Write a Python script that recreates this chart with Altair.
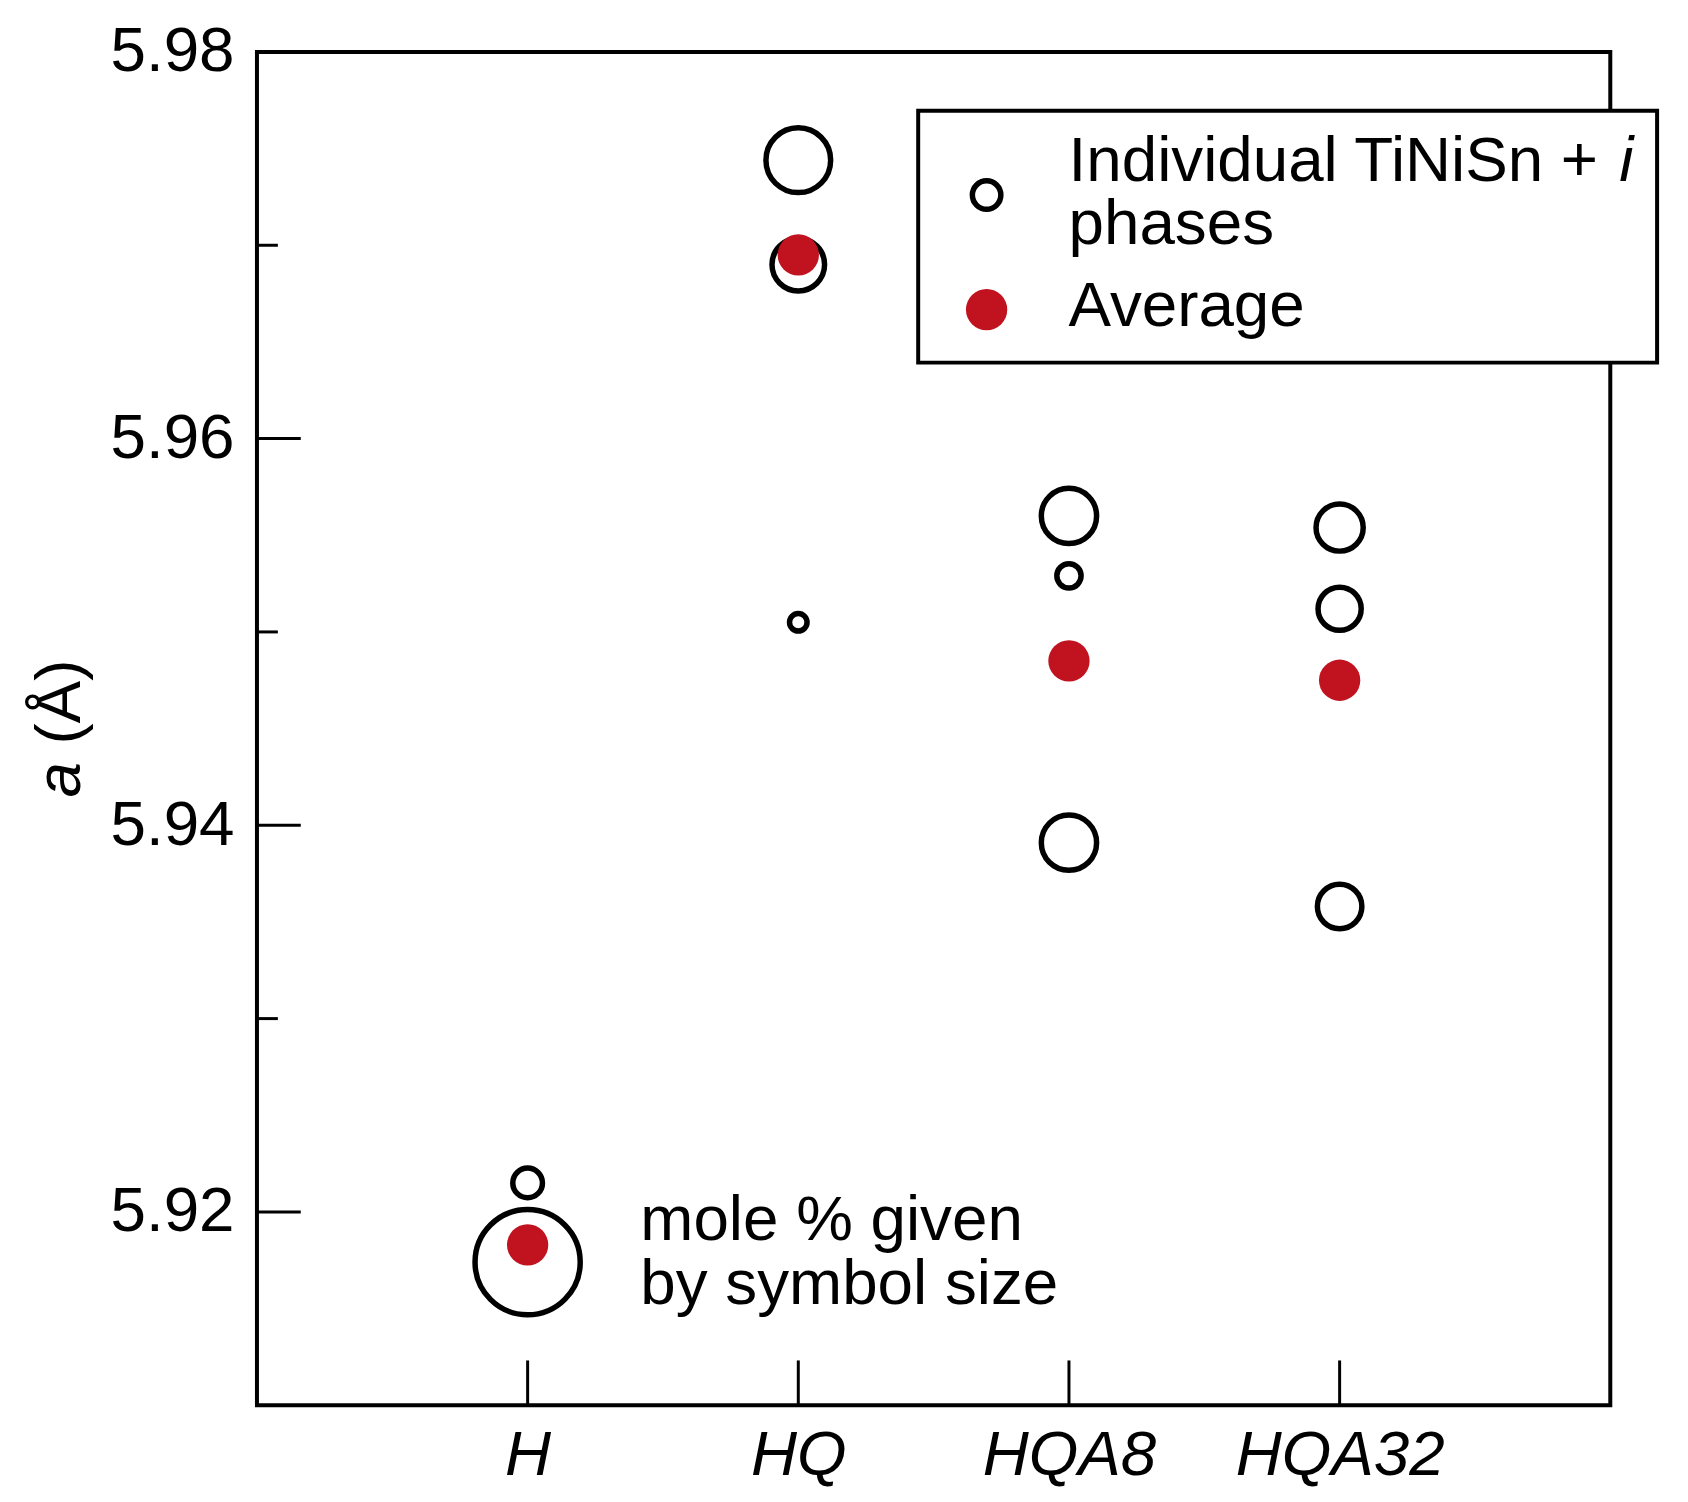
import altair as alt
import pandas as pd

# ---------------- data ----------------
categories = ["H", "HQ", "HQA8", "HQA32"]

phase_sample = ["H", "H", "HQ", "HQ", "HQ", "HQA8", "HQA8", "HQA8", "HQA32", "HQA32", "HQA32"]
phase_a = [5.9215, 5.9174, 5.9744, 5.9690, 5.9505, 5.9560, 5.9529, 5.9391, 5.9554, 5.9512, 5.9358]
phase_mole = [22, 78, 48, 39, 13, 41, 18, 41, 35, 32, 33]

avg_sample = ["H", "HQ", "HQA8", "HQA32"]
avg_a = [5.9183, 5.9695, 5.9485, 5.9475]

y_label_values = [5.92, 5.94, 5.96, 5.98]
y_major_ticks = [5.92, 5.94, 5.96]
y_minor_ticks = [5.93, 5.95, 5.97]

RED = "#c1121f"
FONT = "Liberation Sans"
W = 1359
H = 1359

phases = pd.DataFrame({"sample": phase_sample, "a": phase_a, "mole": phase_mole})
avgs = pd.DataFrame({"sample": avg_sample, "a": avg_a})
major = pd.DataFrame({"a": y_major_ticks})
minor = pd.DataFrame({"a": y_minor_ticks})
cats = pd.DataFrame({"sample": categories})
one = pd.DataFrame({"k": [0]})

xscale = alt.Scale(type="point", domain=categories, padding=1)
yscale = alt.Scale(domain=[5.91, 5.98], nice=False, zero=False)

xaxis = alt.Axis(title=None, ticks=False, tickSize=0, domain=False, grid=False,
                 labelFontSize=64, labelFont=FONT, labelFontStyle="italic",
                 labelColor="black", labelAngle=0, labelPadding=19,
                 labelFlush=False, labelOverlap=False, labelLimit=0)
yaxis = alt.Axis(title=None, ticks=False, tickSize=0, domain=False, grid=False,
                 values=y_label_values, format=".2f",
                 labelFontSize=64, labelFont=FONT, labelColor="black",
                 labelPadding=23, labelFlush=False, labelOverlap=False, labelLimit=0)

X = alt.X("sample:N", scale=xscale, axis=xaxis, sort=categories)
Y = alt.Y("a:Q", scale=yscale, axis=yaxis)

# ticks (inward)
t_major = alt.Chart(major).mark_rule(color="black", strokeWidth=3).encode(
    y=Y, x=alt.value(0), x2=alt.value(44))
t_minor = alt.Chart(minor).mark_rule(color="black", strokeWidth=3).encode(
    y=Y, x=alt.value(0), x2=alt.value(21))
t_x = alt.Chart(cats).mark_rule(color="black", strokeWidth=3).encode(
    x=X, y=alt.value(H - 45), y2=alt.value(H))

# individual phases
rings = alt.Chart(phases).mark_point(shape="circle", filled=False, stroke="black",
                                     strokeWidth=5.5, opacity=1).encode(
    x=X, y=Y,
    size=alt.Size("mole:Q", scale=alt.Scale(type="pow", exponent=2, domain=[0, 100],
                                            range=[0, 18333]), legend=None))

# averages
dots = alt.Chart(avgs).mark_circle(color=RED, opacity=1, size=1722).encode(x=X, y=Y)

# legend box
leg_box = alt.Chart(one).mark_rect(fill="white", stroke="black", strokeWidth=4).encode(
    x=alt.value(664), x2=alt.value(1406), y=alt.value(59), y2=alt.value(312))
leg_ring = alt.Chart(one).mark_point(shape="circle", filled=False, stroke="black",
                                     strokeWidth=5.5, opacity=1).encode(
    x=alt.value(732.7), y=alt.value(143.7), size=alt.value(818))
leg_dot = alt.Chart(one).mark_circle(color=RED, opacity=1).encode(
    x=alt.value(732.7), y=alt.value(258.7), size=alt.value(1722))


def txt(s, x, y, italic=False, angle=0):
    kw = dict(font=FONT, fontSize=64, align="left", baseline="alphabetic", color="black")
    if italic:
        kw["fontStyle"] = "italic"
    if angle:
        kw["angle"] = angle
    return alt.Chart(one).mark_text(**kw).encode(
        x=alt.value(x), y=alt.value(y), text=alt.value(s))


texts = [
    txt("Individual TiNiSn +", 815, 129.3),
    txt("i", 1368, 129.3, italic=True),
    txt("phases", 815, 192.7),
    txt("Average", 815, 275.3),
    txt("mole % given", 385, 1192.7),
    txt("by symbol size", 385, 1257),
    txt("a", -178, 748.8, italic=True, angle=270),
    txt("(Å)", -178, 695.4, angle=270),
]

chart = alt.layer(t_major, t_minor, t_x, rings, dots, leg_box, leg_ring, leg_dot, *texts).properties(
    width=W, height=H,
    autosize=alt.AutoSizeParams(type="none"),
    padding={"left": 250, "top": 41, "right": 70, "bottom": 86},
    background="white",
).configure_view(stroke="black", strokeWidth=4).resolve_scale(size="independent")

chart.save("out.html", embed_options={"renderer": "svg", "actions": False})
